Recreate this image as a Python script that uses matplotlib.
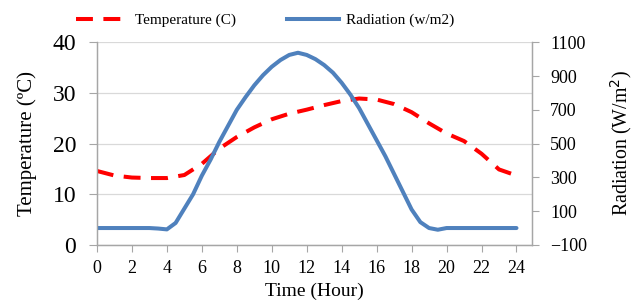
import matplotlib
matplotlib.use('Agg')
import matplotlib.pyplot as plt
from matplotlib.lines import Line2D

# temperature, read hourly
hours = list(range(25))
temperature = [14.6, 13.7, 13.3, 13.2, 13.2, 13.8, 16.0, 19.0, 21.3, 23.2, 24.8, 25.9, 26.7,
               27.6, 28.4, 28.9, 28.7, 27.8, 26.2, 24.0, 22.0, 20.5, 18.0, 14.9, 13.7]

# radiation, read every half hour
half_hours = [h / 2 for h in range(49)]
radiation = [0, 0, 0, 0, 0, 0, 0, -3, -8, 30, 115, 200, 310, 405, 510, 605, 700,
             775, 845, 905, 955, 995, 1025, 1038, 1025, 1000, 965, 920, 860,
             790, 710, 615, 520, 425, 320, 215, 110, 35, 0, -10, 0, 0, 0, 0, 0, 0, 0, 0, 0]

x_ticks = list(range(0, 25, 2))
temp_ticks = [0, 10, 20, 30, 40]
rad_ticks = [-100, 100, 300, 500, 700, 900, 1100]

plt.rcParams['font.family'] = ['Liberation Serif', 'DejaVu Serif']

spine_col = '#a6a6a6'
red = '#ff0000'
blue = '#4f81bd'

fig = plt.figure(figsize=(6.42, 3.02), dpi=100)
ax = fig.add_axes([0.151, 0.189, 0.678, 0.671])
ax2 = ax.twinx()

ax.plot(hours, temperature, color=red, lw=2.9, dashes=(4.2, 2.6), zorder=3)
ax2.plot(half_hours, radiation, color=blue, lw=2.9, zorder=2, solid_capstyle='round')

ax.set_xlim(0, 24.9)
ax.set_ylim(0, 40)
ax2.set_ylim(-100, 1100)
ax.set_xticks(x_ticks)
ax.set_yticks(temp_ticks)
ax2.set_yticks(rad_ticks)

ax.grid(axis='y', color='#d9d9d9', lw=0.9)
ax.set_axisbelow(True)

for a in (ax, ax2):
    for s in a.spines.values():
        s.set_color(spine_col)
        s.set_linewidth(0.9)
ax.spines['top'].set_visible(False)
ax2.spines['top'].set_visible(False)

ax.tick_params(axis='y', direction='out', length=6, color=spine_col, labelsize=17, pad=9)
ax.tick_params(axis='x', direction='out', length=5, color=spine_col, labelsize=13, pad=6)
ax2.tick_params(axis='y', direction='out', length=5, color=spine_col, labelsize=13, pad=8)

fig.text(0.49, 0.005, 'Time (Hour)', fontsize=14, ha='center', va='bottom')
fig.text(0.043, 0.525, 'Temperature (ºC)', fontsize=15, rotation=90, ha='center', va='center')
fig.text(0.967, 0.525, 'Radiation (W/m$^2$)', fontsize=14.3, rotation=90, ha='center', va='center')

handles = [Line2D([], [], color=red, lw=2.9, dashes=(4.2, 2.6)),
           Line2D([], [], color=blue, lw=2.9)]
fig.legend(handles, ['Temperature (C)', 'Radiation (w/m2)'], loc='center',
           bbox_to_anchor=(0.413, 0.932), ncol=2, frameon=False, fontsize=11,
           handlelength=3.4, handletextpad=0.4, columnspacing=3.4)

fig.savefig('out.png', dpi=100)
